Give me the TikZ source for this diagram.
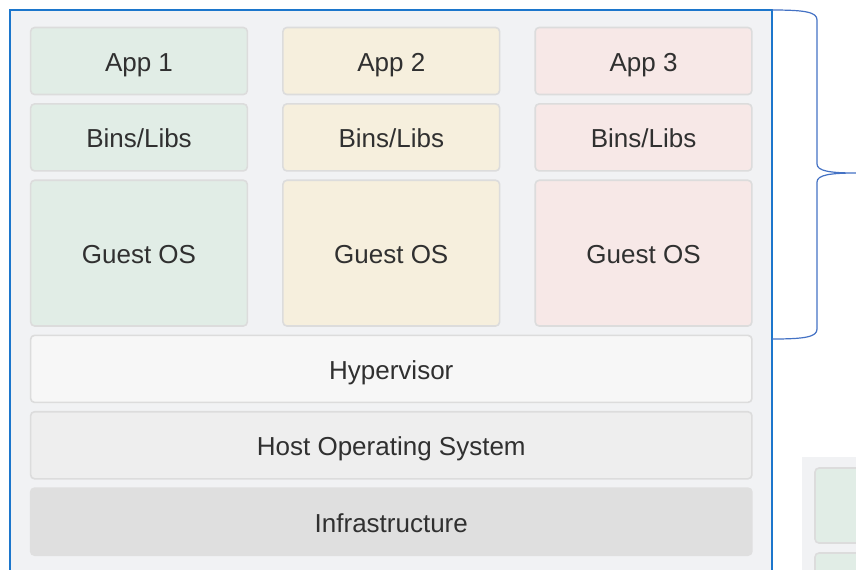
\documentclass[tikz,border=0pt]{standalone}
\usepackage{fontspec}
\setmainfont{Liberation Sans}
\usetikzlibrary{positioning}
\definecolor{vmgreen}{HTML}{E1EDE6}
\definecolor{vmyellow}{HTML}{F6EFDD}
\definecolor{vmpink}{HTML}{F7E8E7}
\definecolor{hyperfill}{HTML}{F7F7F7}
\definecolor{hostfill}{HTML}{EEEEEE}
\definecolor{infrafill}{HTML}{DFDFDF}
\definecolor{boxline}{HTML}{DCDCDC}
\definecolor{panelfill}{HTML}{F1F2F4}
\definecolor{frameblue}{HTML}{1C76CC}
\definecolor{braceblue}{HTML}{4472C4}
\definecolor{txtgray}{HTML}{303030}

\begin{document}
\begin{tikzpicture}[x=0.75pt, y=-0.75pt,
  layer/.style={draw=boxline, line width=1.2pt, rounded corners=3pt,
                minimum width=162.5pt, minimum height=50.3pt, inner sep=0pt,
                text height=15.5pt, text depth=0pt,
                font=\fontsize{19.5}{23}\selectfont, text=txtgray},
  guest/.style={layer, minimum height=109.3pt},
  wide/.style={layer, minimum width=541pt},
  frame/.style={draw=frameblue, line width=1.3pt, fill=panelfill},
  brace/.style={draw=braceblue, line width=0.9pt},
  node distance=5.8pt and 25.5pt
]
\useasboundingbox (0,0) rectangle (856,569);

%% outer panel
\draw[frame] (10,10) rectangle (772,600);

%% three virtual machines
\node[layer, fill=vmgreen] (app1) at (139,61) {App 1};
\node[layer, fill=vmgreen, below=of app1] (bins1) {Bins/Libs};
\node[guest, fill=vmgreen, below=of bins1] (guest1) {Guest OS};

\node[layer, fill=vmyellow, right=of app1] (app2) {App 2};
\node[layer, fill=vmyellow, below=of app2] (bins2) {Bins/Libs};
\node[guest, fill=vmyellow, below=of bins2] (guest2) {Guest OS};

\node[layer, fill=vmpink, right=of app2] (app3) {App 3};
\node[layer, fill=vmpink, below=of app3] (bins3) {Bins/Libs};
\node[guest, fill=vmpink, below=of bins3] (guest3) {Guest OS};

%% shared layers
\node[wide, fill=hyperfill, below=of guest2] (hyper) {Hypervisor};
\node[wide, fill=hostfill, below=of hyper] (hostos) {Host Operating System};
\node[wide, fill=infrafill, draw=infrafill, below=of hostos] (infra) {Infrastructure};

%% brace over the VMs
\coordinate (bracetop) at (772,10);
\coordinate (bracebot) at (772,339);
\coordinate (bracetip) at (856,173);
\draw[brace] (bracetop) .. controls (805,10) and (817,12) .. (817,20)
  -- (817,164) .. controls (817,171) and (830,173) .. (bracetip)
  .. controls (830,173) and (817,175) .. (817,182)
  -- (817,329) .. controls (817,337) and (805,339) .. (bracebot);

%% next panel, cut off
\fill[panelfill] (802,457) rectangle (880,600);
\draw[layer, fill=vmgreen] (815,468) rectangle (890,543);
\draw[layer, fill=vmgreen] (815,553) rectangle (890,620);
\end{tikzpicture}
\end{document}
